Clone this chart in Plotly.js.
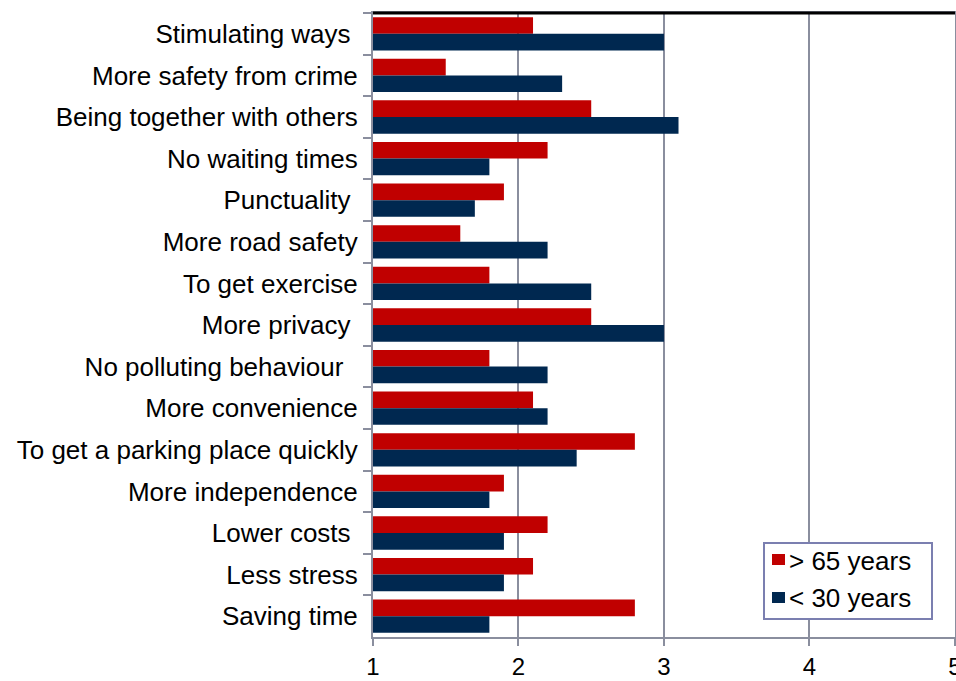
<!DOCTYPE html>
<html>
<head>
<meta charset="utf-8">
<script src="https://cdn.plot.ly/plotly-3.0.1.min.js"></script>
<style>html,body{margin:0;padding:0;background:#fff;}#chart{width:956px;height:681px;}</style>
</head>
<body>
<div id="chart"></div>
<script>
const categories = [
  "Stimulating ways ",
  "More safety from crime",
  "Being together with others",
  "No waiting times",
  "Punctuality ",
  "More road safety",
  "To get exercise",
  "More privacy ",
  "No polluting behaviour  ",
  "More convenience",
  "To get a parking place quickly",
  "More independence",
  "Lower costs ",
  "Less stress",
  "Saving time"
];
const over65 = [2.1, 1.5, 2.5, 2.2, 1.9, 1.6, 1.8, 2.5, 1.8, 2.1, 2.8, 1.9, 2.2, 2.1, 2.8];
const under30 = [3.0, 2.3, 3.1, 1.8, 1.7, 2.2, 2.5, 3.0, 2.2, 2.2, 2.4, 1.8, 1.9, 1.9, 1.8];
const seriesNames = ["> 65 years", "< 30 years"];
const seriesColors = ["#c00000", "#002850"];
const xTicks = [1, 2, 3, 4, 5];

const labels = categories.map(s => s.replace(/ /g, "\u00a0"));
const gridColor = "#8a8e9e";

// plot area in pixels: left 373, right 955, top 13, bottom 637
const L = 373, R = 955, T = 13, B = 637;
const px = v => (v - L) / (R - L);
const py = v => (B - v) / (B - T);

const traces = [over65, under30].map((vals, i) => ({
  type: "bar", orientation: "h", name: seriesNames[i], y: labels,
  x: vals.map(v => v - 1), base: 1,
  marker: {color: seriesColors[i]}, showlegend: false
}));

const legendShapes = [
  {type: "rect", xref: "paper", yref: "paper", x0: px(764), x1: px(932), y0: py(619), y1: py(543),
   line: {color: "#7b7fb0", width: 2}, fillcolor: "#ffffff", layer: "above"},
  {type: "rect", xref: "paper", yref: "paper", x0: px(772), x1: px(785), y0: py(565), y1: py(554),
   line: {width: 0}, fillcolor: seriesColors[0], layer: "above"},
  {type: "rect", xref: "paper", yref: "paper", x0: px(772), x1: px(785), y0: py(603), y1: py(592),
   line: {width: 0}, fillcolor: seriesColors[1], layer: "above"}
];
const legendText = [
  {xref: "paper", yref: "paper", x: px(787), y: py(561), xanchor: "left", yanchor: "middle",
   text: seriesNames[0], showarrow: false, font: {size: 26, color: "#000"}},
  {xref: "paper", yref: "paper", x: px(787), y: py(598), xanchor: "left", yanchor: "middle",
   text: seriesNames[1], showarrow: false, font: {size: 26, color: "#000"}}
].map(a => Object.assign(a, {text: a.text.replace(/</g, "&lt;").replace(/>/g, "&gt;")}));

const layout = {
  width: 956, height: 681,
  margin: {l: L, r: 956 - R, t: T, b: 681 - B},
  paper_bgcolor: "#ffffff", plot_bgcolor: "#ffffff",
  font: {family: "Liberation Sans, Arial, sans-serif", size: 26, color: "#000"},
  barmode: "group", bargap: 0.2, bargroupgap: 0,
  xaxis: {
    range: [1, 5.0005], tickvals: xTicks, ticktext: xTicks.map(String),
    showgrid: true, gridcolor: gridColor, gridwidth: 2,
    showline: true, linecolor: gridColor, linewidth: 2, mirror: true,
    ticks: "outside", ticklen: 7, tickcolor: gridColor, tickwidth: 2,
    ticklabelstandoff: 0, ticklabeloverflow: "allow",
    zeroline: false, tickfont: {size: 24}, fixedrange: true
  },
  yaxis: {
    type: "category", autorange: "reversed",
    showline: true, linecolor: gridColor, linewidth: 2, mirror: true,
    ticks: "outside", tickson: "boundaries", ticklen: 8, tickcolor: gridColor, tickwidth: 2,
    ticklabelstandoff: 8,
    showgrid: false, tickfont: {size: 26}, fixedrange: true
  },
  showlegend: false,
  shapes: [
    {type: "line", xref: "paper", yref: "paper", x0: 0, x1: 1, y0: 1, y1: 1,
     line: {color: "#000", width: 3}}
  ].concat(legendShapes),
  annotations: legendText
};

Plotly.newPlot("chart", traces, layout, {displayModeBar: false, staticPlot: true});
</script>
</body>
</html>
